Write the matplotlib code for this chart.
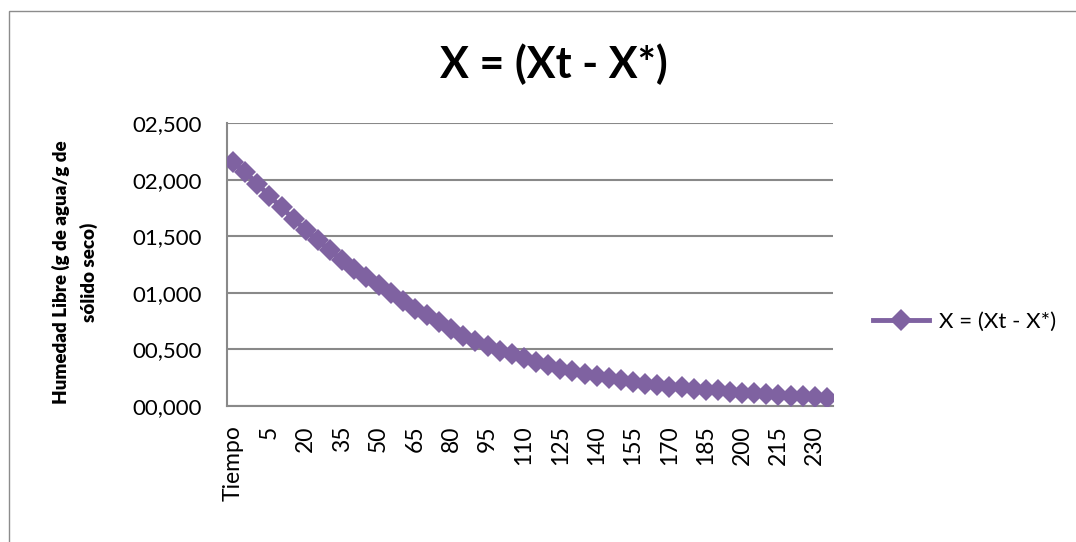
import matplotlib
matplotlib.use('Agg')
import matplotlib.pyplot as plt
from matplotlib.patches import Rectangle

plt.rcParams['font.family'] = ['Lato', 'DejaVu Sans']

# categorias del eje X (la primera celda es el encabezado "Tiempo")
tiempos = ['Tiempo', '(min)', '0', '5', '10', '15', '20', '25', '30', '35',
           '40', '45', '50', '55', '60', '65', '70', '75', '80', '85',
           '90', '95', '100', '105', '110', '115', '120', '125', '130', '135',
           '140', '145', '150', '155', '160', '165', '170', '175', '180', '185',
           '190', '195', '200', '205', '210', '215', '220', '225', '230', '235']

# humedad libre X = (Xt - X*)
humedad_libre = [2.155, 2.065, 1.965, 1.855, 1.755, 1.650, 1.555, 1.465, 1.375, 1.290,
                 1.210, 1.140, 1.065, 1.000, 0.930, 0.860, 0.800, 0.740, 0.680, 0.620,
                 0.570, 0.530, 0.490, 0.455, 0.420, 0.390, 0.360, 0.330, 0.305, 0.285,
                 0.265, 0.245, 0.228, 0.212, 0.198, 0.185, 0.172, 0.165, 0.152, 0.144,
                 0.138, 0.128, 0.119, 0.111, 0.104, 0.097, 0.090, 0.084, 0.078, 0.072]

y_ticks = [0.0, 0.5, 1.0, 1.5, 2.0, 2.5]

COLOR_SERIE = '#7F62A1'
COLOR_GRID = '#898989'
COLOR_TEXTO = '#000000'

fig = plt.figure(figsize=(10.76, 5.42), dpi=100)
ax = fig.add_axes([227 / 1076, 1 - 406 / 542, 606 / 1076, 283 / 542])

# borde del area del grafico
fig.patches.append(Rectangle((9 / 1076, -0.05), 1.1, 1 - 11 / 542 + 0.05,
                             transform=fig.transFigure, fill=False,
                             edgecolor='#8C8C8C', linewidth=1.0))

x = list(range(len(tiempos)))
ax.plot(x, humedad_libre, color=COLOR_SERIE, linewidth=3.5, marker='D',
        markersize=11, markeredgewidth=0, label='X = (Xt - X*)', zorder=5)

ax.set_xlim(-0.5, len(tiempos) - 0.5)
ax.set_ylim(0, 2.5)
ax.set_yticks(y_ticks)
ax.set_yticklabels([f'{v:06.3f}'.replace('.', ',') for v in y_ticks])
ax.set_xticks(x[::3])
ax.set_xticklabels(tiempos[::3], rotation=90, va='top', ha='center')

ax.tick_params(axis='y', length=0, pad=18, labelsize=16, colors=COLOR_TEXTO)
ax.tick_params(axis='x', length=0, pad=14, labelsize=16.5, colors=COLOR_TEXTO)

ax.grid(axis='y', color=COLOR_GRID, linewidth=1.5)
ax.set_axisbelow(True)
for lado in ['top', 'right']:
    ax.spines[lado].set_visible(False)
for lado in ['left', 'bottom']:
    ax.spines[lado].set_color(COLOR_GRID)
    ax.spines[lado].set_linewidth(1.5)

fig.text(554 / 1076, 1 - 64 / 542, 'X = (Xt - X*)', fontsize=31,
         fontweight='bold', ha='center', va='center', color=COLOR_TEXTO)

fig.text(75 / 1076, 1 - 272 / 542, 'Humedad Libre (g de agua/g de\nsólido seco)',
         fontsize=13.5, fontweight='heavy', rotation=90, ha='center', va='center',
         multialignment='center', linespacing=1.7, color=COLOR_TEXTO)

ax.legend(loc='center left', bbox_to_anchor=(873 / 1076, 1 - 322 / 542),
          bbox_transform=fig.transFigure, frameon=False, fontsize=16,
          borderpad=0, borderaxespad=0, handlelength=2.5, handletextpad=0.45)

fig.savefig('out.png', dpi=100, facecolor='white')
plt.close(fig)
